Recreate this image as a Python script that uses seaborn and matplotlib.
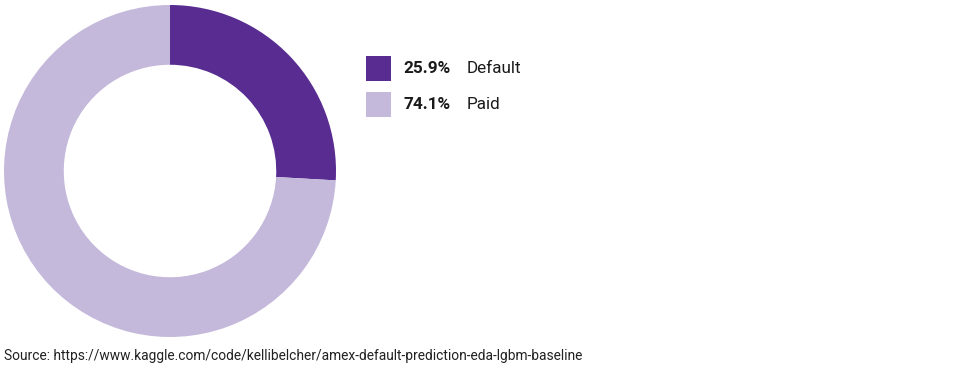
import matplotlib
matplotlib.use("Agg")
import matplotlib.pyplot as plt
from matplotlib.patches import Rectangle
import seaborn as sns

# Data
labels = ["Default", "Paid"]
shares = [25.9, 74.1]
colors = ["#582c91", "#c4b8db"]
source = "Source: https://www.kaggle.com/code/kellibelcher/amex-default-prediction-eda-lgbm-baseline"

sns.set_theme(style="white")
plt.rcParams['font.family'] = ['Roboto', 'DejaVu Sans']

W, H = 980, 380
fig = plt.figure(figsize=(W / 100, H / 100), dpi=100)

# Donut, center ~ (170, 171) px, outer radius ~166 px
cx, cy, r = 170, 171, 166
ax = fig.add_axes([(cx - r) / W, (H - cy - r) / H, 2 * r / W, 2 * r / H])
ax.pie(shares, colors=colors, startangle=90, counterclock=False,
       wedgeprops=dict(width=0.36, edgecolor="white", linewidth=0))
ax.set_aspect("equal")
ax.set_xlim(-1, 1)
ax.set_ylim(-1, 1)
ax.axis("off")

# Legend
box = 25
for i, (lab, val, col) in enumerate(zip(labels, shares, colors)):
    top = 56 + i * 36
    fig.patches.append(Rectangle((366 / W, (H - top - box) / H), box / W, box / H,
                                 transform=fig.transFigure, facecolor=col,
                                 edgecolor="none"))
    ymid = (H - top - box / 2) / H
    fig.text(403 / W, ymid, f"{val:.1f}%", fontsize=12.3, fontweight="bold",
             color="#1a1a1a", va="center", ha="left")
    fig.text(467 / W, ymid, lab, fontsize=12.3, color="#1a1a1a",
             va="center", ha="left")

fig.text(4 / W, (H - 356) / H, source, fontsize=9.9, color="#222222",
         va="center", ha="left")

fig.savefig("out.png", dpi=100)
